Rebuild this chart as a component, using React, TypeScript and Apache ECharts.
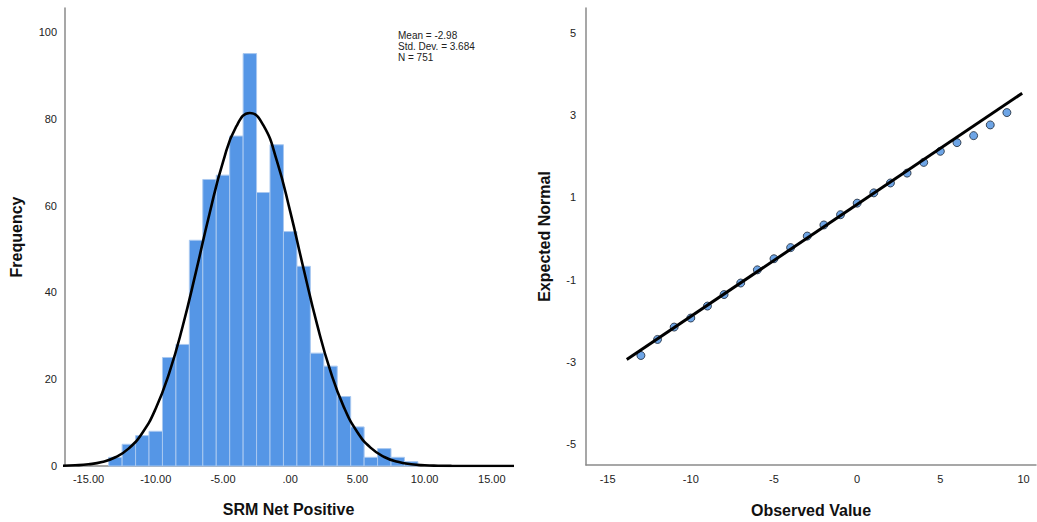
import React, { useEffect, useRef } from "react";
import * as echarts from "echarts";

// Histogram bins (centered on integer values, width 1)
const binCenters = [-13, -12, -11, -10, -9, -8, -7, -6, -5, -4, -3, -2, -1, 0, 1, 2, 3, 4, 5, 6, 7, 8, 9];
const binCounts = [2, 5, 7, 8, 25, 28, 52, 66, 67, 76, 95, 63, 74, 54, 46, 26, 23, 16, 9, 2, 4, 2, 1];

// Fitted normal curve
const curveX = [-17, -16, -15, -14, -13, -12, -11, -10, -9, -8, -7, -6, -5, -4, -3, -2, -1, 0, 1, 2, 3, 4, 5, 6, 7, 8, 9, 10, 11, 12, 13, 14, 15, 16, 17];
const curveY = [0.06, 0.16, 0.4, 0.93, 2.01, 4.06, 7.6, 13.24, 21.41, 32.14, 44.84, 58.12, 69.98, 78.27, 81.33, 78.5, 70.39, 58.64, 45.37, 32.61, 21.78, 13.51, 7.78, 4.17, 2.07, 0.96, 0.41, 0.16, 0.06, 0.02, 0.01, 0, 0, 0, 0];

const histXTicks = [-15, -10, -5, 0, 5, 10, 15];
const histYTicks = [0, 20, 40, 60, 80, 100];
const statsLines = ["Mean = -2.98", "Std. Dev. = 3.684", "N = 751"];

// Q-Q plot
const qqObserved = [-13, -12, -11, -10, -9, -8, -7, -6, -5, -4, -3, -2, -1, 0, 1, 2, 3, 4, 5, 6, 7, 8, 9];
const qqExpected = [-2.84, -2.45, -2.15, -1.93, -1.64, -1.36, -1.08, -0.76, -0.49, -0.22, 0.06, 0.33, 0.58, 0.86, 1.11, 1.35, 1.59, 1.85, 2.12, 2.33, 2.5, 2.76, 3.06];
const qqLineX = [-13.85, 9.92];
const qqLineY = [-2.94, 3.53];
const qqXTicks = [-15, -10, -5, 0, 5, 10];
const qqYTicks = [-5, -3, -1, 1, 3, 5];

const AXIS_COLOR = "#8a8a8a";
const LABEL_COLOR = "#222";
const FONT = "'Liberation Sans', Arial, sans-serif";

export default function App() {
  const ref = useRef<HTMLDivElement>(null);
  useEffect(() => {
    if (!ref.current) return;
    const chart = echarts.init(ref.current, undefined, { renderer: "svg" });
    const axisLine = { show: true, onZero: false, lineStyle: { color: AXIS_COLOR, width: 1.5 } };
    const nameStyle = { fontFamily: FONT, fontSize: 16, fontWeight: "bold" as const, color: "#111" };
    const labelStyle = { fontFamily: FONT, fontSize: 11, color: LABEL_COLOR };

    chart.setOption({
      animation: false,
      backgroundColor: "#fff",
      grid: [
        { left: 65, top: 8, width: 447, height: 458, outerBoundsMode: "none", containLabel: false },
        { left: 586, top: 8, width: 450, height: 457, outerBoundsMode: "none", containLabel: false },
      ],
      xAxis: [
        {
          gridIndex: 0,
          type: "value",
          min: -16.75,
          max: 16.5,
          name: "SRM Net Positive",
          nameLocation: "middle",
          nameGap: 35,
          nameTextStyle: nameStyle,
          axisLine,
          axisTick: { show: false },
          splitLine: { show: false },
          axisLabel: {
            ...labelStyle,
            margin: 7,
            customValues: histXTicks,
            formatter: (v: number) => (v === 0 ? ".00" : v.toFixed(2)),
          },
        },
        {
          gridIndex: 1,
          type: "value",
          min: -16.3,
          max: 10.75,
          name: "Observed Value",
          nameLocation: "middle",
          nameGap: 37,
          nameTextStyle: nameStyle,
          axisLine,
          axisTick: { show: false },
          splitLine: { show: false },
          axisLabel: { ...labelStyle, margin: 8, customValues: qqXTicks },
        },
      ],
      yAxis: [
        {
          gridIndex: 0,
          type: "value",
          min: 0,
          max: 105.5,
          name: "Frequency",
          nameLocation: "middle",
          nameGap: 41,
          nameTextStyle: nameStyle,
          axisLine,
          axisTick: { show: false },
          splitLine: { show: false },
          axisLabel: { ...labelStyle, margin: 8, customValues: histYTicks },
        },
        {
          gridIndex: 1,
          type: "value",
          min: -5.5,
          max: 5.6,
          name: "Expected Normal",
          nameLocation: "middle",
          nameGap: 34,
          nameTextStyle: nameStyle,
          axisLine,
          axisTick: { show: false },
          splitLine: { show: false },
          axisLabel: { ...labelStyle, margin: 10, customValues: qqYTicks },
        },
      ],
      series: [
        {
          type: "custom",
          xAxisIndex: 0,
          yAxisIndex: 0,
          data: binCenters.map((c, i) => [c, binCounts[i]]),
          renderItem: (params: any, api: any) => {
            const c = api.value(0);
            const v = api.value(1);
            const p0 = api.coord([c - 0.5, v]);
            const p1 = api.coord([c + 0.5, 0]);
            return {
              type: "rect",
              shape: { x: p0[0], y: p0[1], width: p1[0] - p0[0], height: p1[1] - p0[1] },
              style: { fill: "#5596E6", stroke: "#a9c8f0", lineWidth: 1 },
            };
          },
          z: 2,
        },
        {
          type: "line",
          xAxisIndex: 0,
          yAxisIndex: 0,
          data: curveX.map((x, i) => [x, curveY[i]]),
          smooth: true,
          showSymbol: false,
          symbol: "none",
          lineStyle: { color: "#000", width: 2.6 },
          clip: true,
          z: 3,
        },
        {
          type: "scatter",
          xAxisIndex: 1,
          yAxisIndex: 1,
          data: qqObserved.map((x, i) => [x, qqExpected[i]]),
          symbol: "circle",
          symbolSize: 8,
          itemStyle: { color: "#4a8fe0", borderColor: "#1b2633", borderWidth: 1 },
          z: 2,
        },
        {
          type: "line",
          xAxisIndex: 1,
          yAxisIndex: 1,
          data: qqLineX.map((x, i) => [x, qqLineY[i]]),
          showSymbol: false,
          symbol: "none",
          lineStyle: { color: "#000", width: 3 },
          z: 3,
        },
      ],
      graphic: [
        {
          type: "text",
          left: 398,
          top: 30,
          style: {
            text: statsLines.join("\n"),
            fontFamily: FONT,
            fontSize: 10,
            lineHeight: 11,
            fill: "#222",
          },
        },
      ],
    });
    return () => chart.dispose();
  }, []);
  return (
    <div
      ref={ref}
      style={{ position: "fixed", left: 0, top: 0, width: 1037, height: 522, background: "#fff" }}
    />
  );
}
